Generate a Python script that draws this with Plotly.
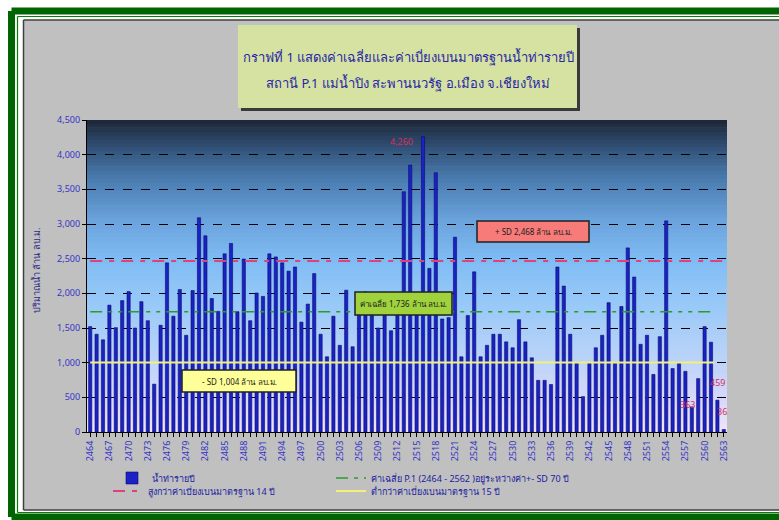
import plotly.graph_objects as go

years = list(range(2464, 2564))
runoff = [1520, 1410, 1330, 1830, 1505, 1895, 2025, 1500, 1880, 1605,
          690, 1540, 2440, 1670, 2055, 1395, 2040, 3090, 2830, 1925,
          1740, 2570, 2720, 1735, 2495, 1605, 2005, 1955, 2570, 2525,
          2440, 2320, 2380, 1585, 1845, 2285, 1410, 1085, 1670, 1250,
          2045, 1230, 1850, 2020, 1750, 1500, 1700, 1460, 1680, 3465,
          3850, 1900, 4260, 2360, 3740, 1630, 1650, 2810, 1085, 1680,
          2310, 1085, 1250, 1410, 1410, 1300, 1215, 1620, 1300, 1070,
          745, 745, 685, 2380, 2105, 1410, 990, 510, 990, 1215,
          1395, 1865, 990, 1810, 2655, 2235, 1265, 1395, 830, 1375,
          3045, 915, 990, 875, 363, 770, 1520, 1295, 459, 36]
mean_val = 1736
sd_plus = 2468
sd_minus = 1004
y_ticks = [0, 500, 1000, 1500, 2000, 2500, 3000, 3500, 4000, 4500]
x_label_years = years[::3]

title_lines = ["กราฟที่ 1 แสดงค่าเฉลี่ยและค่าเบี่ยงเบนมาตรฐานน้ำท่ารายปี",
               "สถานี P.1 แม่น้ำปิง สะพานนวรัฐ อ.เมือง จ.เชียงใหม่"]
legend_names = ["น้ำท่ารายปี",
                "ค่าเฉลี่ย P.1 (2464 - 2562 )อยู่ระหว่างค่า+- SD 70 ปี",
                "สูงกว่าค่าเบี่ยงเบนมาตรฐาน 14 ปี",
                "ต่ำกว่าค่าเบี่ยงเบนมาตรฐาน 15 ปี"]
y_title = "ปริมาณน้ำ ล้าน ลบ.ม."
unit = "ล้าน ลบ.ม."

FONT = "Tahoma, 'Noto Sans', 'DejaVu Sans', sans-serif"
W, H = 779, 520
L, R, T, B = 87, 727, 120, 432


def px(x):
    return (x - L) / (R - L)


def py(y):
    return (B - y) / (B - T)


fig = go.Figure()
fig.add_trace(go.Bar(x=years, y=runoff, name=legend_names[0], width=0.5, legend="legend",
                     marker=dict(color="#1a22c6", line=dict(color="#0a0a6a", width=0.6))))
fig.add_trace(go.Scatter(x=[years[0], years[-2] - 0.5], y=[mean_val, mean_val], mode="lines",
                         name=legend_names[1], legend="legend2",
                         line=dict(color="#2e9a2e", width=1.5, dash="12px,6px,4px,6px,4px,6px")))
fig.add_trace(go.Scatter(x=[years[0], years[-1]], y=[sd_plus, sd_plus], mode="lines",
                         name=legend_names[2], legend="legend3",
                         line=dict(color="#e0407c", width=2, dash="12px,7px,5px,7px")))
fig.add_trace(go.Scatter(x=[years[0], years[-2] - 0.5], y=[sd_minus, sd_minus], mode="lines",
                         name=legend_names[3], legend="legend4",
                         line=dict(color="#f2f07a", width=2)))

shapes = []


def frame_lines(x0, y0, y1, color, width, xr=W + 5):
    out = []
    for (a, b, c, d) in [(x0, y0, xr, y0), (x0, y0, x0, y1), (x0, y1, xr, y1)]:
        out.append(dict(type="line", xref="paper", yref="paper", layer="below",
                        x0=px(a), y0=py(b), x1=px(c), y1=py(d),
                        line=dict(color=color, width=width)))
    return out


# gray panel fill, then frame lines (open on the right, beyond the picture)
shapes.append(dict(type="rect", xref="paper", yref="paper", layer="below",
                   x0=px(23.5), x1=px(W + 20), y0=py(20), y1=py(510),
                   line=dict(width=0), fillcolor="#c0c0c0"))
shapes += frame_lines(11.5, 11, 517, "#006400", 7)
shapes += frame_lines(17.5, 16.5, 512.5, "#0a7a0a", 1.2)
shapes += frame_lines(23.5, 20, 510, "#404040", 1.5)

# gradient plot background
stops = [(0.0, (0xee, 0xe6, 0xfb)), (0.1, (0xd8, 0xd8, 0xfa)), (0.26, (0xb6, 0xd2, 0xf8)),
         (0.42, (0x96, 0xc8, 0xf8)), (0.55, (0x80, 0xbc, 0xf4)), (0.68, (0x6a, 0xa2, 0xdc)),
         (0.81, (0x4a, 0x7c, 0xb0)), (0.9, (0x34, 0x56, 0x7e)), (1.0, (0x1c, 0x26, 0x36))]


def col_at(t):
    for (a, ca), (b, cb) in zip(stops[:-1], stops[1:]):
        if a <= t <= b:
            f = (t - a) / (b - a)
            c = [round(ca[k] + (cb[k] - ca[k]) * f) for k in range(3)]
            return "rgb(%d,%d,%d)" % tuple(c)
    return "rgb(%d,%d,%d)" % stops[-1][1]


N = 80
for k in range(N):
    y0 = k / N
    y1 = (k + 1) / N + 0.002
    shapes.append(dict(type="rect", xref="paper", yref="paper", layer="below",
                       x0=0, x1=1, y0=y0, y1=min(y1, 1), line=dict(width=0),
                       fillcolor=col_at((k + 0.5) / N)))

# title box with shadow
shapes.append(dict(type="rect", xref="paper", yref="paper", layer="above",
                   x0=px(241), x1=px(580), y0=py(28), y1=py(111),
                   line=dict(width=0), fillcolor="#3a3a3a"))
shapes.append(dict(type="rect", xref="paper", yref="paper", layer="above",
                   x0=px(238), x1=px(577), y0=py(25), y1=py(108),
                   line=dict(width=0), fillcolor="#d6e2a2"))

boxes = [((477, 221, 589, 242), "#f77b78", f"+ SD {sd_plus:,} {unit}"),
         ((355, 292, 452, 315), "#9fd23c", f"ค่าเฉลี่ย {mean_val:,} {unit}"),
         ((182, 370, 296, 392), "#ffff99", f"- SD {sd_minus:,} {unit}")]
annotations = []
for (x0, y0, x1, y1), c, txt in boxes:
    shapes.append(dict(type="rect", xref="paper", yref="paper", layer="above",
                       x0=px(x0), x1=px(x1), y0=py(y0), y1=py(y1),
                       line=dict(color="#202020", width=1.5), fillcolor=c))
    annotations.append(dict(xref="paper", yref="paper", x=px((x0 + x1) / 2), y=py((y0 + y1) / 2),
                            text=txt, showarrow=False, font=dict(family=FONT, size=8, color="#202020"),
                            xanchor="center", yanchor="middle"))

for i, line in enumerate(title_lines):
    annotations.append(dict(xref="paper", yref="paper", x=px(408), y=py(57 + i * 26),
                            text=line, showarrow=False,
                            font=dict(family=FONT, size=13, color="#2626a6"),
                            xanchor="center", yanchor="middle"))

annotations.append(dict(xref="paper", yref="paper", x=px(36), y=py(270), text=y_title,
                        textangle=-90, showarrow=False,
                        font=dict(family=FONT, size=9, color="#2a2a8a"),
                        xanchor="center", yanchor="middle"))

# data labels
lab_color = "#d8305a"
peak_i = runoff.index(max(runoff))
labels = [(years[peak_i] - 3.3, runoff[peak_i] - 70, runoff[peak_i]),
          (years[94] - 0.75, runoff[94] + 40, runoff[94]),
          (years[98], runoff[98] + 260, runoff[98]),
          (years[99] - 0.3, runoff[99] + 265, runoff[99])]
for x, y, v in labels:
    annotations.append(dict(x=x, y=y, xref="x", yref="y", text=f"{v:,}", showarrow=False,
                            font=dict(family=FONT, size=9, color=lab_color),
                            xanchor="center", yanchor="middle"))

leg_common = dict(orientation="h", xanchor="left", yanchor="middle",
                  bgcolor="rgba(0,0,0,0)",
                  font=dict(family=FONT, size=9, color="#2020a0"), tracegroupgap=0,
                  itemwidth=30, borderwidth=0)
fig.update_layout(
    width=W, height=H,
    margin=dict(l=L, r=W - R, t=T, b=H - B, pad=0),
    paper_bgcolor="white", plot_bgcolor="rgba(0,0,0,0)",
    font=dict(family=FONT, size=9, color="#3434c8"),
    shapes=shapes, annotations=annotations,
    bargap=0.5,
    showlegend=True,
    legend=dict(x=px(112), y=py(478), **leg_common),
    legend2=dict(x=px(331), y=py(478), **leg_common),
    legend3=dict(x=px(108), y=py(491), **leg_common),
    legend4=dict(x=px(331), y=py(491), **leg_common),
)
fig.update_xaxes(range=[years[0] - 0.5, years[-1] + 0.5], tickmode="array", tickvals=years,
                 ticktext=[str(y) if y in x_label_years else "" for y in years],
                 tickangle=-90, ticks="outside", ticklen=4, tickcolor="black",
                 showline=True, linecolor="black", linewidth=1.2, showgrid=False,
                 tickfont=dict(family=FONT, size=9, color="#3434c8"), zeroline=False)
fig.update_yaxes(range=[0, 4500], tickmode="array", tickvals=y_ticks,
                 ticktext=[f"{v:,}" for v in y_ticks],
                 ticks="outside", ticklen=4, tickcolor="black",
                 showline=True, linecolor="black", linewidth=1.2,
                 showgrid=True, gridcolor="black", gridwidth=1, griddash="dash",
                 tickfont=dict(family=FONT, size=9, color="#3434c8"), zeroline=False)

fig.write_html("out.html", config={"displayModeBar": False},
               post_script=("document.body.style.margin='0';"
                            "document.body.style.overflow='hidden';"
                            "document.documentElement.style.overflow='hidden';"))
